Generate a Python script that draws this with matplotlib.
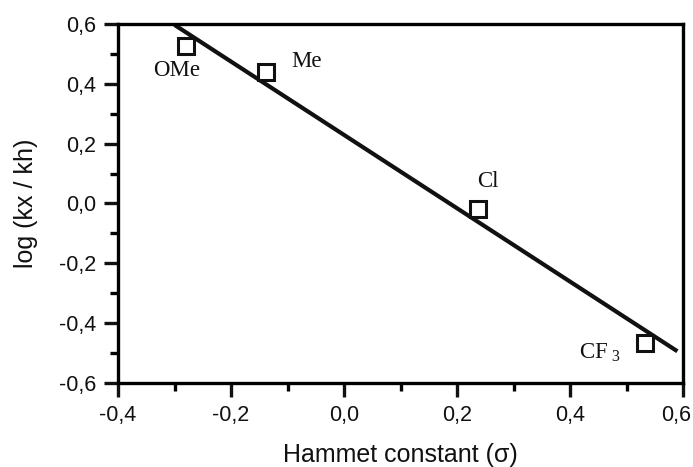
import matplotlib.pyplot as plt
import matplotlib.transforms as mtransforms
from matplotlib.ticker import MultipleLocator, FuncFormatter

# substituent data: Hammett sigma vs log(kx/kh)
subst = ["OMe", "Me", "Cl", "CF$_{\\ 3}$"]
sigma = [-0.28, -0.138, 0.237, 0.532]
logk = [0.527, 0.44, -0.02, -0.468]
# label anchor positions (data units)
lab_x = [-0.297, -0.067, 0.255, 0.452]
lab_y = [0.446, 0.476, 0.072, -0.50]

# regression line end points
fit_x = [-0.30, 0.59]
fit_y = [0.597, -0.494]

INK = "#111111"

plt.rcParams.update({
    "font.family": "Liberation Sans",
    "mathtext.fontset": "custom",
    "mathtext.rm": "Liberation Serif",
    "mathtext.it": "Liberation Serif",
    "axes.linewidth": 2.4,
    "xtick.major.width": 2.4, "ytick.major.width": 2.4,
    "xtick.minor.width": 2.4, "ytick.minor.width": 2.4,
    "xtick.major.size": 10, "ytick.major.size": 10,
    "xtick.minor.size": 5.5, "ytick.minor.size": 5.5,
    "xtick.direction": "out", "ytick.direction": "out",
})

fig = plt.figure(figsize=(6.93, 4.67), dpi=100)
ax = fig.add_axes([0.1703, 0.1799, 0.8153, 0.7687])

ax.plot(fit_x, fit_y, color=INK, lw=3.0, solid_capstyle="butt", zorder=2)
ax.plot(sigma, logk, ls="none", marker="s", ms=11, mfc="white", mec=INK, mew=2.2, zorder=3)

for name, x, y in zip(subst, lab_x, lab_y):
    ax.text(x, y, name, family="Liberation Serif", fontsize=16.5, ha="center", va="center", color=INK)

ax.set_xlim(-0.4, 0.6)
ax.set_ylim(-0.6, 0.6)
ax.xaxis.set_major_locator(MultipleLocator(0.2))
ax.xaxis.set_minor_locator(MultipleLocator(0.1))
ax.yaxis.set_major_locator(MultipleLocator(0.2))
ax.yaxis.set_minor_locator(MultipleLocator(0.1))
comma = FuncFormatter(lambda v, p: f"{v:.1f}".replace(".", ",").replace("-0,0", "0,0"))
ax.xaxis.set_major_formatter(comma)
ax.yaxis.set_major_formatter(comma)
ax.tick_params(labelsize=15.5, colors=INK, pad=6)
ax.tick_params(which="both", top=False, right=False)

ax.set_xlabel("Hammet constant (σ)", fontsize=18, labelpad=12, color=INK)
ax.set_ylabel("log (kx / kh)", fontsize=18, labelpad=15, color=INK)

# nudge the rightmost x tick label so it stays inside the figure
fig.canvas.draw()
for lbl in ax.get_xticklabels():
    if lbl.get_text() == "0,6":
        lbl.set_transform(lbl.get_transform() + mtransforms.ScaledTranslation(-7 / 100, 0, fig.dpi_scale_trans))

fig.savefig("out.png", dpi=100)
